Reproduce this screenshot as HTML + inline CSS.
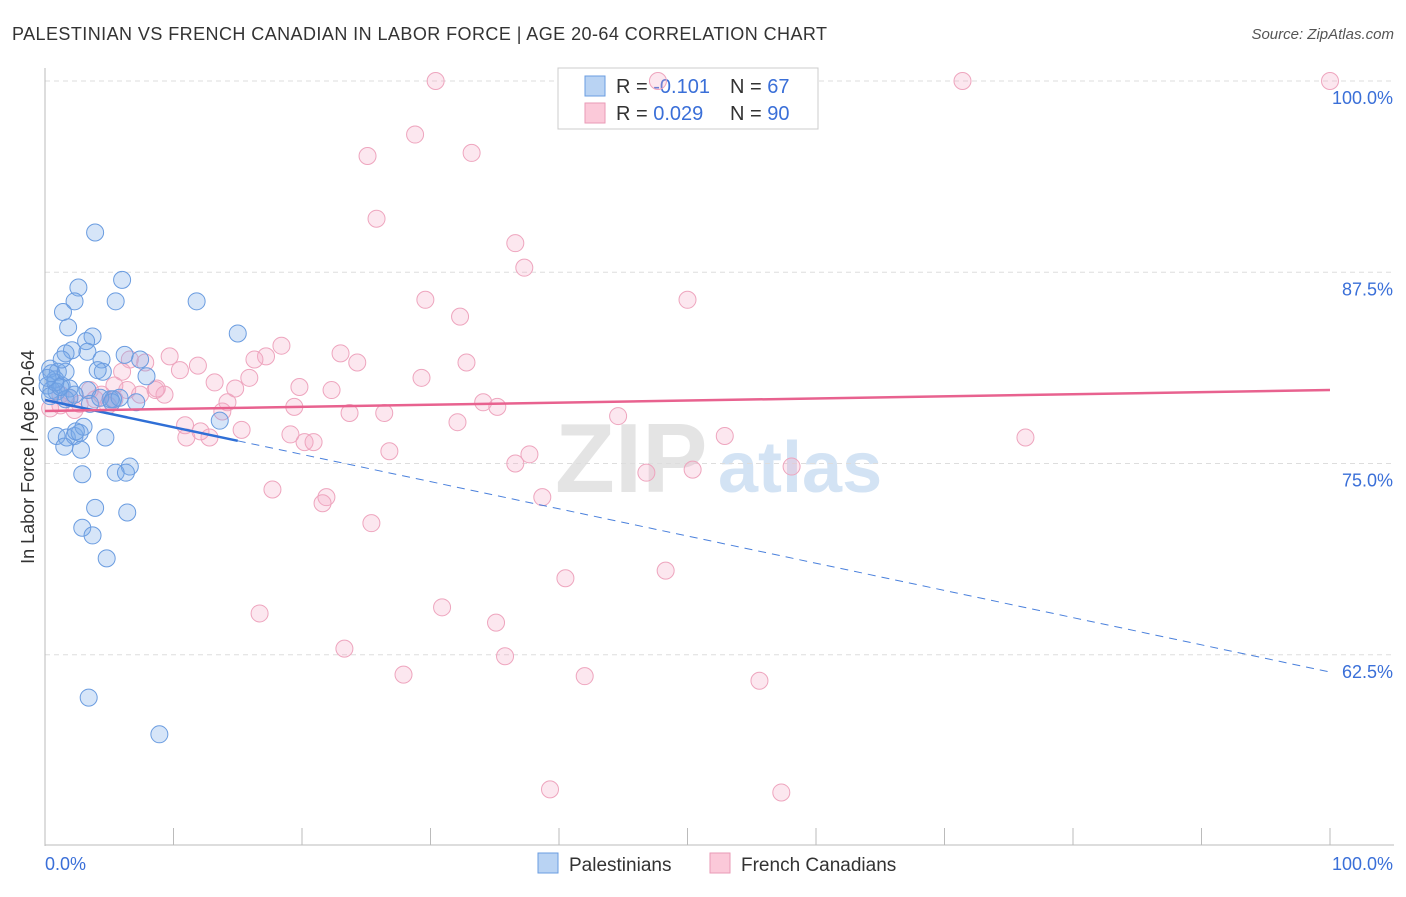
<!DOCTYPE html>
<html><head><meta charset="utf-8"><style>
body{margin:0;background:#fff;font-family:"Liberation Sans",sans-serif}
svg text{font-family:"Liberation Sans",sans-serif}
</style></head><body>
<svg id="chart" width="1406" height="892">
<text x="12" y="40" font-size="18" fill="#333" textLength="815">PALESTINIAN VS FRENCH CANADIAN IN LABOR FORCE | AGE 20-64 CORRELATION CHART</text>
<text x="1394" y="39" font-size="15" fill="#555" font-style="italic" text-anchor="end">Source: ZipAtlas.com</text>
<g><text x="555" y="492" font-size="98" font-weight="bold" fill="#e4e4e4" font-family="Liberation Serif">ZIP</text><text x="718" y="492" font-size="72" font-weight="bold" fill="#d3e3f4">atlas</text></g>
<g id="grid"></g>
<g id="axes"></g>
<text transform="translate(34,457) rotate(-90)" font-size="18" fill="#333" text-anchor="middle">In Labor Force | Age 20-64</text>
<g>
<rect x="558" y="68" width="260" height="61" fill="#fff" stroke="#ccc"/>
<rect x="585" y="76" width="20" height="20" fill="#b9d3f3" stroke="#6a9ce0"/>
<rect x="585" y="103" width="20" height="20" fill="#fbc9d9" stroke="#ea9ab6"/>
<text x="616" y="93" font-size="20" fill="#333">R = <tspan fill="#3a6fd8">-0.101</tspan></text>
<text x="730" y="93" font-size="20" fill="#333">N = <tspan fill="#3a6fd8">67</tspan></text>
<text x="616" y="120" font-size="20" fill="#333">R = <tspan fill="#3a6fd8"> 0.029</tspan></text>
<text x="730" y="120" font-size="20" fill="#333">N = <tspan fill="#3a6fd8">90</tspan></text>
</g>
<g id="pts"></g>
<g id="lines"></g>
<g>
<rect x="538" y="853" width="20" height="20" fill="#b9d3f3" stroke="#6a9ce0"/>
<text x="569" y="871" font-size="19" fill="#333">Palestinians</text>
<rect x="710" y="853" width="20" height="20" fill="#fbc9d9" stroke="#ea9ab6"/>
<text x="741" y="871" font-size="19" fill="#333">French Canadians</text>
</g>
</svg>
<script>
const yTicks=[100,87.5,75,62.5];
const yTickLabels=["100.0%","87.5%","75.0%","62.5%"];
const blueX=[3.9,6.0,2.6,2.3,5.5,11.8,1.4,1.8,15.0,3.7,3.2,2.1,3.3,6.2,1.6,4.4,0.4,1.0,4.5,7.9,0.8,0.2,1.3,0.5,1.9,3.3,0.9,5.1,5.3,7.1,3.5,1.9,1.6,0.4,0.9,1.7,2.3,2.7,3.0,2.4,4.7,1.5,2.8,13.6,6.6,5.5,6.3,2.9,3.9,6.4,2.9,3.7,4.8,3.4,8.9,1.2,0.8,2.3,0.2,0.5,1.6,4.3,5.2,1.3,4.1,7.4,5.8];
const blueY=[90.1,87.0,86.5,85.6,85.6,85.6,84.9,83.9,83.5,83.3,83.0,82.4,82.3,82.1,82.2,81.8,81.2,81.0,81.0,80.7,80.5,80.1,80.1,79.8,79.9,79.8,79.7,79.2,79.2,79.0,78.9,79.3,79.2,79.4,76.8,76.7,76.8,77.0,77.4,77.1,76.7,76.1,75.9,77.8,74.8,74.4,74.4,74.3,72.1,71.8,70.8,70.3,68.8,59.7,57.3,80.0,80.3,79.5,80.6,80.9,81.0,79.3,79.0,81.8,81.1,81.8,79.3];
const pinkX=[30.4,47.7,71.4,100,28.8,33.2,25.1,25.8,36.6,37.3,50.0,29.6,32.3,18.4,17.2,16.3,23.0,24.3,32.8,9.7,7.8,11.9,6.6,10.5,6.0,13.2,14.8,15.9,19.8,22.3,29.3,5.4,6.4,8.6,9.3,8.7,3.5,4.4,1.9,1.2,2.7,4.9,0.4,14.2,19.4,23.7,26.4,34.1,35.2,44.6,32.1,13.8,15.3,11.0,12.8,19.1,20.2,20.9,52.9,76.3,26.8,37.7,36.6,46.8,50.4,58.1,17.7,21.9,21.6,38.7,25.4,40.5,48.3,16.7,30.9,35.1,23.3,35.8,27.9,42.0,55.6,39.3,57.3,12.1,5.4,7.4,2.3,3.9,10.9,1.2];
const pinkY=[100,100,100,100,96.5,95.3,95.1,91.0,89.4,87.8,85.7,85.7,84.6,82.7,82.0,81.8,82.2,81.6,81.6,82.0,81.6,81.4,81.8,81.1,81.0,80.3,79.9,80.6,80.0,79.8,80.6,80.1,79.8,79.8,79.5,79.9,79.8,79.5,79.3,78.8,78.9,78.8,78.6,79.0,78.7,78.3,78.3,79.0,78.7,78.1,77.7,78.4,77.2,76.7,76.7,76.9,76.4,76.4,76.8,76.7,75.8,75.6,75.0,74.4,74.6,74.8,73.3,72.8,72.4,72.8,71.1,67.5,68.0,65.2,65.6,64.6,62.9,62.4,61.2,61.1,60.8,53.7,53.5,77.1,79.2,79.5,78.5,79.2,77.5,79.5];
const blueTrend=[79.15,61.37];
const pinkTrend=[78.43,79.8];
const NS="http://www.w3.org/2000/svg";
const sx=v=>45+v*12.85;
const sy=v=>81+(100-v)*15.3;
function mk(t,a,p){const e=document.createElementNS(NS,t);for(const k in a)e.setAttribute(k,a[k]);p.appendChild(e);return e;}
const grid=document.getElementById('grid'),axes=document.getElementById('axes');
yTicks.forEach((v,i)=>{
 const l=mk('line',{x1:45,x2:1394,y1:sy(v),y2:sy(v),stroke:'#ddd','stroke-dasharray':'5,4'},grid);
 
 
 const t=mk('text',{x:1393,y:sy(v)+23,'font-size':18,fill:'#3a6fd8','text-anchor':'end'},axes);
 t.textContent=yTickLabels[i];
 
 
});
mk('line',{x1:45,x2:45,y1:68,y2:846,stroke:'#bbb'},axes);
mk('line',{x1:45,x2:1394,y1:845,y2:845,stroke:'#bbb'},axes);
for(let i=0;i<=10;i++){const tk=mk('line',{x1:sx(i*10),x2:sx(i*10),y1:828,y2:845,stroke:'#bbb'},axes);
 
 }
const xl=mk('text',{x:45,y:870,'font-size':18,fill:'#3a6fd8'},axes);xl.textContent='0.0%';


const xr=mk('text',{x:1393,y:870,'font-size':18,fill:'#3a6fd8','text-anchor':'end'},axes);xr.textContent='100.0%';


const pts=document.getElementById('pts');
pinkX.forEach((x,i)=>{const c=mk('circle',{cx:sx(x),cy:sy(pinkY[i]),r:8.5,fill:'rgba(246,170,196,0.28)',stroke:'#eea5be','stroke-width':1},pts);
 
 });
blueX.forEach((x,i)=>{const c=mk('circle',{cx:sx(x),cy:sy(blueY[i]),r:8.5,fill:'rgba(120,168,232,0.3)',stroke:'#6a9ce0','stroke-width':1},pts);
 
 });
const lines=document.getElementById('lines');
const bAt=x=>blueTrend[0]+(blueTrend[1]-blueTrend[0])*x/100;
const b1=mk('line',{x1:sx(0),y1:sy(bAt(0)),x2:sx(15),y2:sy(bAt(15)),stroke:'#2f6fd6','stroke-width':2.5},lines);


const b2=mk('line',{x1:sx(15),y1:sy(bAt(15)),x2:sx(100),y2:sy(bAt(100)),stroke:'#4a80dc','stroke-width':1,'stroke-dasharray':'8,6'},lines);


const p1=mk('line',{x1:sx(0),y1:sy(pinkTrend[0]),x2:sx(100),y2:sy(pinkTrend[1]),stroke:'#e8628f','stroke-width':2.5},lines);


</script>
</body></html>
